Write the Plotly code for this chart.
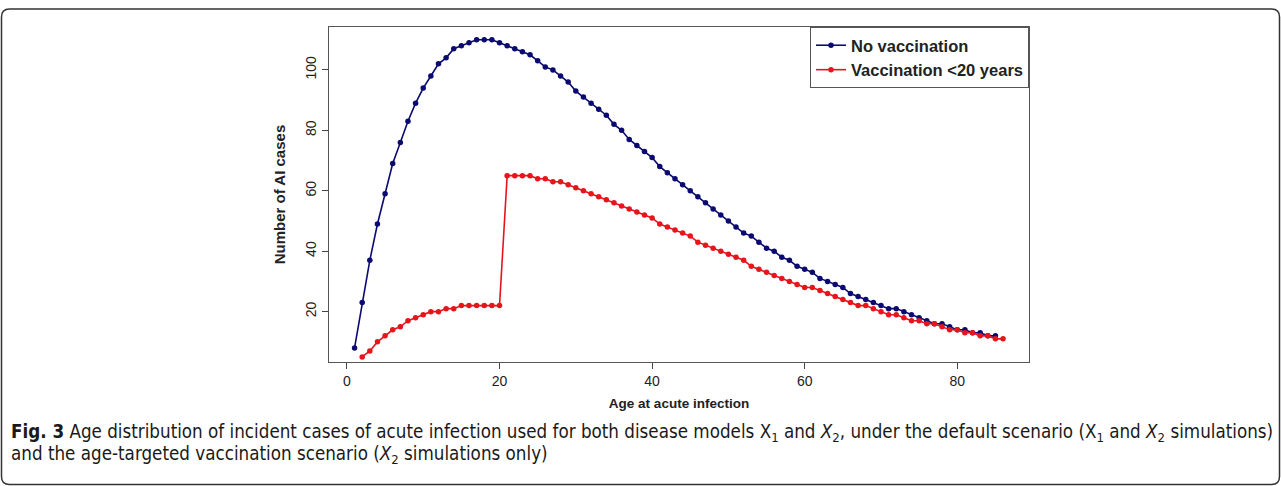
import plotly.graph_objects as go

# ---- data ----
ages_blue = list(range(1, 86))
no_vacc = [8, 23, 37, 49, 59, 69, 76, 83, 89, 94, 98, 102, 104, 107, 108, 109, 110, 110, 110, 109,
           108, 107, 106, 105, 103, 101, 100, 98, 96, 93, 91, 89, 87, 85, 82, 80, 77, 75, 73, 71,
           68, 66, 64, 62, 60, 58, 56, 54, 52, 50, 48, 46, 45, 43, 41, 40, 38, 37, 35, 34,
           33, 31, 30, 29, 28, 26, 25, 24, 23, 22, 21, 21, 20, 19, 18, 17, 16, 16, 15, 14,
           14, 13, 13, 12, 12]
ages_red = list(range(2, 87))
vacc_lt20 = [5, 7, 10, 12, 14, 15, 17, 18, 19, 20, 20, 21, 21, 22, 22, 22, 22, 22, 22,
             65, 65, 65, 65, 64, 64, 63, 63, 62, 61, 60, 59, 58, 57, 56, 55, 54, 53, 52, 51,
             49, 48, 47, 46, 45, 43, 42, 41, 40, 39, 38, 37, 35, 34, 33, 32, 31, 30, 29, 28,
             28, 27, 26, 25, 24, 23, 22, 22, 21, 20, 19, 19, 18, 17, 17, 16, 16, 15, 14, 14,
             13, 13, 12, 12, 11, 11]
x_ticks = [0, 20, 40, 60, 80]
y_ticks = [20, 40, 60, 80, 100]

W, H = 1281, 486
L, R, T, B = 329, 252, 27, 124
pw, ph = W - L - R, H - T - B

def px_x(p):
    return (p - L) / pw

def px_y(p):
    return (H - B - p) / ph

fig = go.Figure()
fig.add_trace(go.Scatter(x=ages_blue, y=no_vacc, mode="lines+markers", name="No vaccination",
                         line=dict(color="#0a0a70", width=1.6),
                         marker=dict(color="#0a0a70", size=5.5)))
fig.add_trace(go.Scatter(x=ages_red, y=vacc_lt20, mode="lines+markers", name="Vaccination &lt;20 years",
                         line=dict(color="#e8141c", width=1.6),
                         marker=dict(color="#e8141c", size=5.5)))

tick_font = dict(family="Liberation Sans, Arial, sans-serif", size=14, color="#222")
xt_font = dict(family="Liberation Sans, Arial, sans-serif", size=13.5, color="#222")
yt_font = dict(family="Liberation Sans, Arial, sans-serif", size=15, color="#222")
fig.update_xaxes(range=[-2.35, 89.4], tickvals=x_ticks, ticks="outside", ticklen=6,
                 tickcolor="#444", showline=True, linecolor="#555", linewidth=1, mirror=True,
                 showgrid=False, zeroline=False, tickfont=tick_font,
                 title=dict(text="<b>Age at acute infection</b>", font=xt_font, standoff=10))
fig.update_yaxes(range=[3.34, 114.2], tickvals=y_ticks, ticks="outside", ticklen=6,
                 tickcolor="#444", showline=True, linecolor="#555", linewidth=1, mirror=True,
                 showgrid=False, zeroline=False, tickangle=-90, tickfont=tick_font,
                 title=dict(text="<b>Number of AI cases</b>", font=yt_font, standoff=14))

# outer rounded frame
x0, x1 = px_x(1.5), px_x(1279.5)
y0, y1 = px_y(484.5), px_y(9)
rx, ry = 8 / pw, 8 / ph
path = (f"M {x0+rx},{y1} L {x1-rx},{y1} Q {x1},{y1} {x1},{y1-ry} L {x1},{y0+ry} "
        f"Q {x1},{y0} {x1-rx},{y0} L {x0+rx},{y0} Q {x0},{y0} {x0},{y0+ry} "
        f"L {x0},{y1-ry} Q {x0},{y1} {x0+rx},{y1} Z")
fig.add_shape(type="path", path=path, xref="paper", yref="paper",
              line=dict(color="#333", width=1.5), layer="below")

cap_font = dict(family="Liberation Sans Narrow, DejaVu Sans Condensed, Arial Narrow, sans-serif",
                size=18.65, color="#1a1a1a")
fig.add_annotation(x=px_x(9), y=px_y(433), xref="paper", yref="paper", xanchor="left",
                   yanchor="middle", showarrow=False, font=cap_font,
                   text="<b>Fig. 3</b> Age distribution of incident cases of acute infection used for both disease "
                        "models X<sub>1</sub> and <i>X</i><sub>2</sub>, under the default scenario (X<sub>1</sub> and "
                        "<i>X</i><sub>2</sub> simulations)")
fig.add_annotation(x=px_x(9), y=px_y(455), xref="paper", yref="paper", xanchor="left",
                   yanchor="middle", showarrow=False, font=cap_font,
                   text="and the age-targeted vaccination scenario (<i>X</i><sub>2</sub> simulations only)")

fig.update_layout(
    width=W, height=H,
    margin=dict(l=L, r=R, t=T, b=B),
    paper_bgcolor="white", plot_bgcolor="white",
    showlegend=True,
    legend=dict(x=1, y=1, xanchor="right", yanchor="top", bordercolor="#555", borderwidth=1,
                bgcolor="white", font=dict(family="Liberation Sans, Arial, sans-serif", size=16.5,
                                           color="#222", weight="bold"),
                tracegroupgap=0, itemwidth=30),
)

fig.write_html("out.html")
